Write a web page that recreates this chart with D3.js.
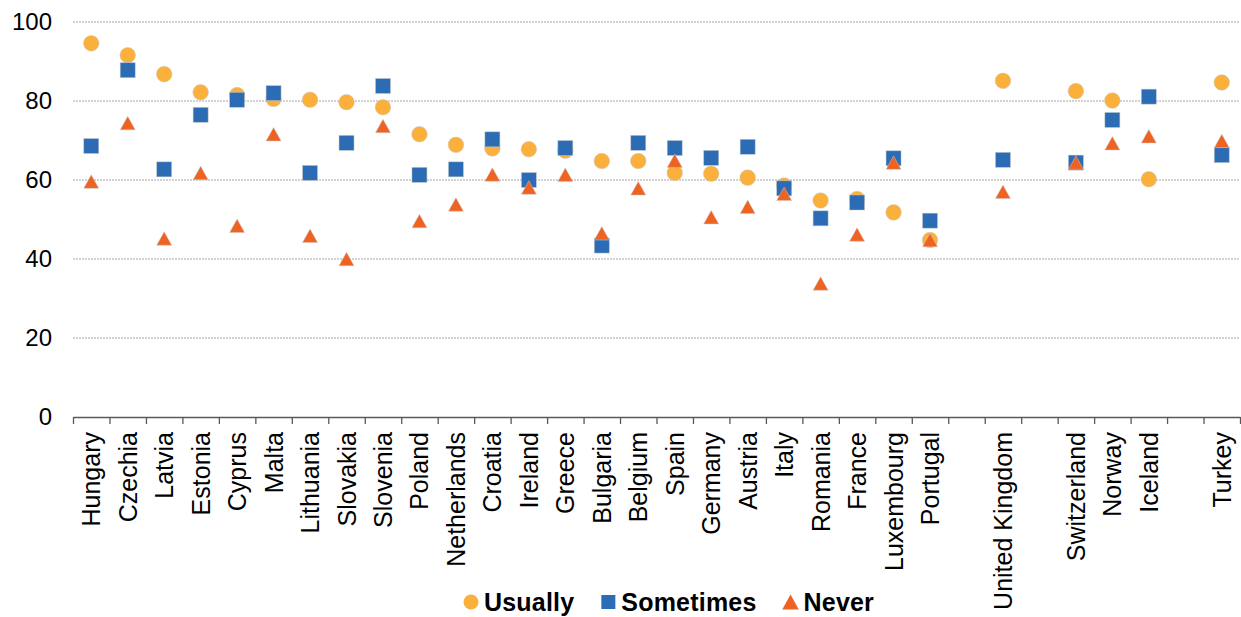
<!DOCTYPE html>
<html lang="en">
<head>
<meta charset="UTF-8">
<title>Usually / Sometimes / Never</title>
<script src="https://d3js.org/d3.v7.min.js"></script>
<style>
  body { margin: 0; background: #fff; }
  text { font-family: "Liberation Sans", Arial, sans-serif; fill: #000; }
</style>
</head>
<body>
<div id="chart"></div>
<script>
// categories along the x axis ("" = empty slot)
const categories = ["Hungary", "Czechia", "Latvia", "Estonia", "Cyprus", "Malta", "Lithuania",
  "Slovakia", "Slovenia", "Poland", "Netherlands", "Croatia", "Ireland", "Greece", "Bulgaria",
  "Belgium", "Spain", "Germany", "Austria", "Italy", "Romania", "France", "Luxembourg",
  "Portugal", "", "United Kingdom", "", "Switzerland", "Norway", "Iceland", "", "Turkey"];

// series values, null where the slot is empty
const usually = [94.6, 91.6, 86.8, 82.2, 81.5, 80.5, 80.3, 79.7, 78.4, 71.6, 68.9, 68.0, 67.8,
  67.4, 64.8, 64.8, 61.8, 61.6, 60.6, 58.6, 54.8, 55.2, 51.8, 44.8, null, 85.1, null, 82.5,
  80.1, 60.2, null, 84.7];
const sometimes = [68.6, 87.8, 62.7, 76.5, 80.3, 82.0, 61.8, 69.4, 83.8, 61.3, 62.7, 70.3, 60.0,
  68.1, 43.4, 69.4, 68.1, 65.6, 68.4, 57.9, 50.3, 54.3, 65.5, 49.7, null, 65.1, null, 64.4,
  75.2, 81.1, null, 66.3];
const never = [59.6, 74.4, 45.2, 61.8, 48.4, 71.6, 45.9, 40.0, 73.7, 49.6, 53.8, 61.4, 58.1,
  61.3, 46.5, 57.9, 64.9, 50.6, 53.2, 56.5, 33.8, 46.2, 64.4, 44.8, null, 57.0, null, 64.4,
  69.3, 71.1, null, 69.9];

const yTicks = [0, 20, 40, 60, 80, 100];
const seriesNames = ["Usually", "Sometimes", "Never"];
const seriesColors = ["#FBB03B", "#2B6CB4", "#EF6322"];

const W = 1241, H = 617;
const margin = {top: 22, right: 1, bottom: 200, left: 73};
const width = W - margin.left - margin.right,
      height = H - margin.top - margin.bottom;

const svg = d3.select("#chart").append("svg")
    .attr("width", W).attr("height", H);
const g = svg.append("g")
    .attr("transform", `translate(${margin.left},${margin.top})`);

const x = d3.scaleBand().domain(d3.range(categories.length)).range([0, width]);
const xEdge = d3.scaleLinear().domain([0, categories.length]).range([0, width]);
const y = d3.scaleLinear().domain([0, 100]).range([height, 0]);

// gridlines
g.append("g").selectAll("line")
  .data(yTicks.filter(d => d > 0))
  .join("line")
    .attr("x1", 0).attr("x2", width)
    .attr("y1", d => y(d)).attr("y2", d => y(d))
    .attr("stroke", "#a6a6a6")
    .attr("stroke-width", 1)
    .attr("stroke-dasharray", "2,1");

// y axis labels, no axis line
const yAxis = g.append("g")
  .call(d3.axisLeft(y).tickValues(yTicks).tickSize(0).tickPadding(21));
yAxis.select(".domain").remove();
yAxis.selectAll("text")
  .style("font-size", "24px")
  .attr("fill", "#000");

// x axis: line with ticks on slot boundaries
const xAxis = g.append("g")
  .attr("transform", `translate(0,${height})`)
  .call(d3.axisBottom(xEdge).tickValues(d3.range(categories.length + 1))
        .tickFormat("").tickSizeInner(7).tickSizeOuter(0));
xAxis.selectAll("path, line").attr("stroke", "#595959").attr("stroke-width", 1.3);

// category labels
g.append("g")
  .attr("transform", `translate(0,${height})`)
  .selectAll("text")
  .data(categories)
  .join("text")
    .attr("transform", (d, i) => `translate(${x(i) + x.bandwidth() / 2},15) rotate(-90)`)
    .attr("dy", "0.36em")
    .attr("text-anchor", "end")
    .style("font-size", "25px")
    .text(d => d);

// marker shapes
const tri = (w, h) => `M0,${-h / 2}L${w / 2},${h / 2}L${-w / 2},${h / 2}Z`;
function drawMarker(sel, k) {
  if (k === 0) sel.append("circle").attr("r", 7.8);
  else if (k === 1) sel.append("rect").attr("x", -7.5).attr("y", -7.5).attr("width", 15).attr("height", 15);
  else sel.append("path").attr("d", tri(15, 13.5));
  sel.selectAll("*")
    .attr("fill", seriesColors[k])
    .attr("stroke", "rgba(200,200,200,0.7)")
    .attr("stroke-width", 0.7);
}

[usually, sometimes, never].forEach((vals, k) => {
  g.append("g").selectAll("g")
    .data(vals.map((v, i) => ({i, v})).filter(d => d.v !== null))
    .join("g")
      .attr("transform", d => `translate(${x(d.i) + x.bandwidth() / 2},${y(d.v)})`)
      .each(function() { drawMarker(d3.select(this), k); });
});

// legend
const legend = svg.append("g").attr("transform", "translate(471,602)");
let lx = 0;
seriesNames.forEach((name, k) => {
  const item = legend.append("g").attr("transform", `translate(${lx},0)`);
  if (k === 0) item.append("circle").attr("r", 7.5).attr("fill", seriesColors[k]);
  else if (k === 1) item.append("rect").attr("x", -7).attr("y", -7).attr("width", 14).attr("height", 14).attr("fill", seriesColors[k]);
  else item.append("path").attr("d", tri(16.5, 15)).attr("fill", seriesColors[k]);
  const t = item.append("text")
    .attr("x", 13).attr("dy", "0.36em")
    .style("font-size", "25px").style("font-weight", "bold")
    .style("letter-spacing", "0.2px")
    .text(name);
  lx += 13 + t.node().getComputedTextLength() + 34;
});
</script>
</body>
</html>
